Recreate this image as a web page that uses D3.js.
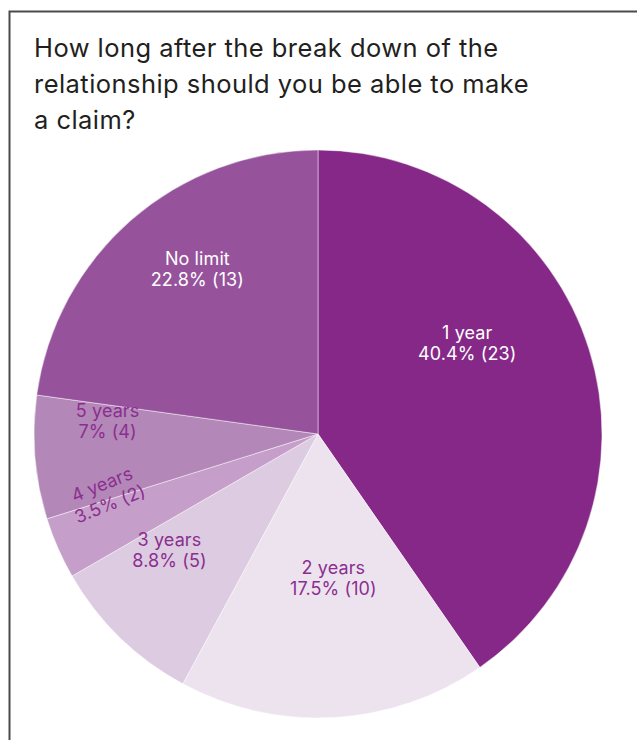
<!DOCTYPE html>
<html>
<head>
<meta charset="utf-8">
<script src="https://cdn.jsdelivr.net/npm/d3@7"></script>
<style>
    body { margin: 0; background: #ffffff; }
    svg { display: block; }
</style>
</head>
<body>
<svg id="chart"></svg>
<script>
// data
let categories = ["1 year", "2 years", "3 years", "4 years", "5 years", "No limit"];
let counts = [23, 10, 5, 2, 4, 13];
let percent_labels = ["40.4%", "17.5%", "8.8%", "3.5%", "7%", "22.8%"];
let title_lines = [
    "How long after the break down of the",
    "relationship should you be able to make",
    "a claim?"
];

let slice_colors = ["#862888", "#ede3ef", "#dccbe1", "#c59fc9", "#b387b8", "#96539c"];
let text_colors = ["#ffffff", "#8b2f8f", "#8b2f8f", "#8b2f8f", "#8b2f8f", "#ffffff"];
// nudges of each label away from the slice centroid, plus rotation
let label_nudge = [[-13, -44], [6, -30], [-30, -10], [-58, -12], [-41, -31], [-9, -41]];
let label_rotate = [0, 0, 0, -22, 0, 0];

let width = 637;
let height = 740;
let cx = 318;
let cy = 434;
let radius = 284;

let svg = d3.select("#chart")
    .attr("width", width)
    .attr("height", height);

// frame, cut off at the right and bottom like the original
svg.append("rect")
    .attr("x", 9.5)
    .attr("y", 11.5)
    .attr("width", 700)
    .attr("height", 800)
    .attr("fill", "none")
    .attr("stroke", "#4a4a4a")
    .attr("stroke-width", 2);

svg.append("g")
    .selectAll("text")
    .data(title_lines)
    .enter().append("text")
    .attr("x", 34)
    .attr("y", function (d, i) { return 57 + i * 36; })
    .attr("fill", "#231f20")
    .style("font-family", "Inter, 'Noto Sans', sans-serif")
    .style("font-size", "25.5px")
    .style("letter-spacing", "0.45px")
    .text(function (d) { return d; });

let pie_data = d3.pie()
    .sort(null)
    .value(function (d) { return d; })(counts);

let arc = d3.arc().innerRadius(0).outerRadius(radius);
let label_arc = d3.arc().innerRadius(170).outerRadius(170);

let g = svg.append("g")
    .attr("transform", "translate(" + cx + "," + cy + ")");

g.selectAll("path")
    .data(pie_data)
    .enter().append("path")
    .attr("d", arc)
    .attr("fill", function (d, i) { return slice_colors[i]; })
    .attr("stroke", "#ffffff")
    .attr("stroke-opacity", 0.6)
    .attr("stroke-width", 0.8);

let labels = g.selectAll("g.label")
    .data(pie_data)
    .enter().append("g")
    .attr("class", "label")
    .attr("transform", function (d, i) {
        let c = label_arc.centroid(d);
        let x = c[0] + label_nudge[i][0];
        let y = c[1] + label_nudge[i][1];
        return "translate(" + x + "," + y + ") rotate(" + label_rotate[i] + ")";
    });

labels.append("text")
    .attr("text-anchor", "middle")
    .attr("fill", function (d, i) { return text_colors[i]; })
    .style("font-family", "Inter, 'Noto Sans', sans-serif")
    .style("font-size", "18px")
    .style("letter-spacing", "0.1px")
    .each(function (d, i) {
        let t = d3.select(this);
        t.append("tspan").attr("x", 0).attr("y", 0).text(categories[i]);
        t.append("tspan").attr("x", 0).attr("y", 21)
            .text(percent_labels[i] + " (" + counts[i] + ")");
    });
</script>
</body>
</html>
